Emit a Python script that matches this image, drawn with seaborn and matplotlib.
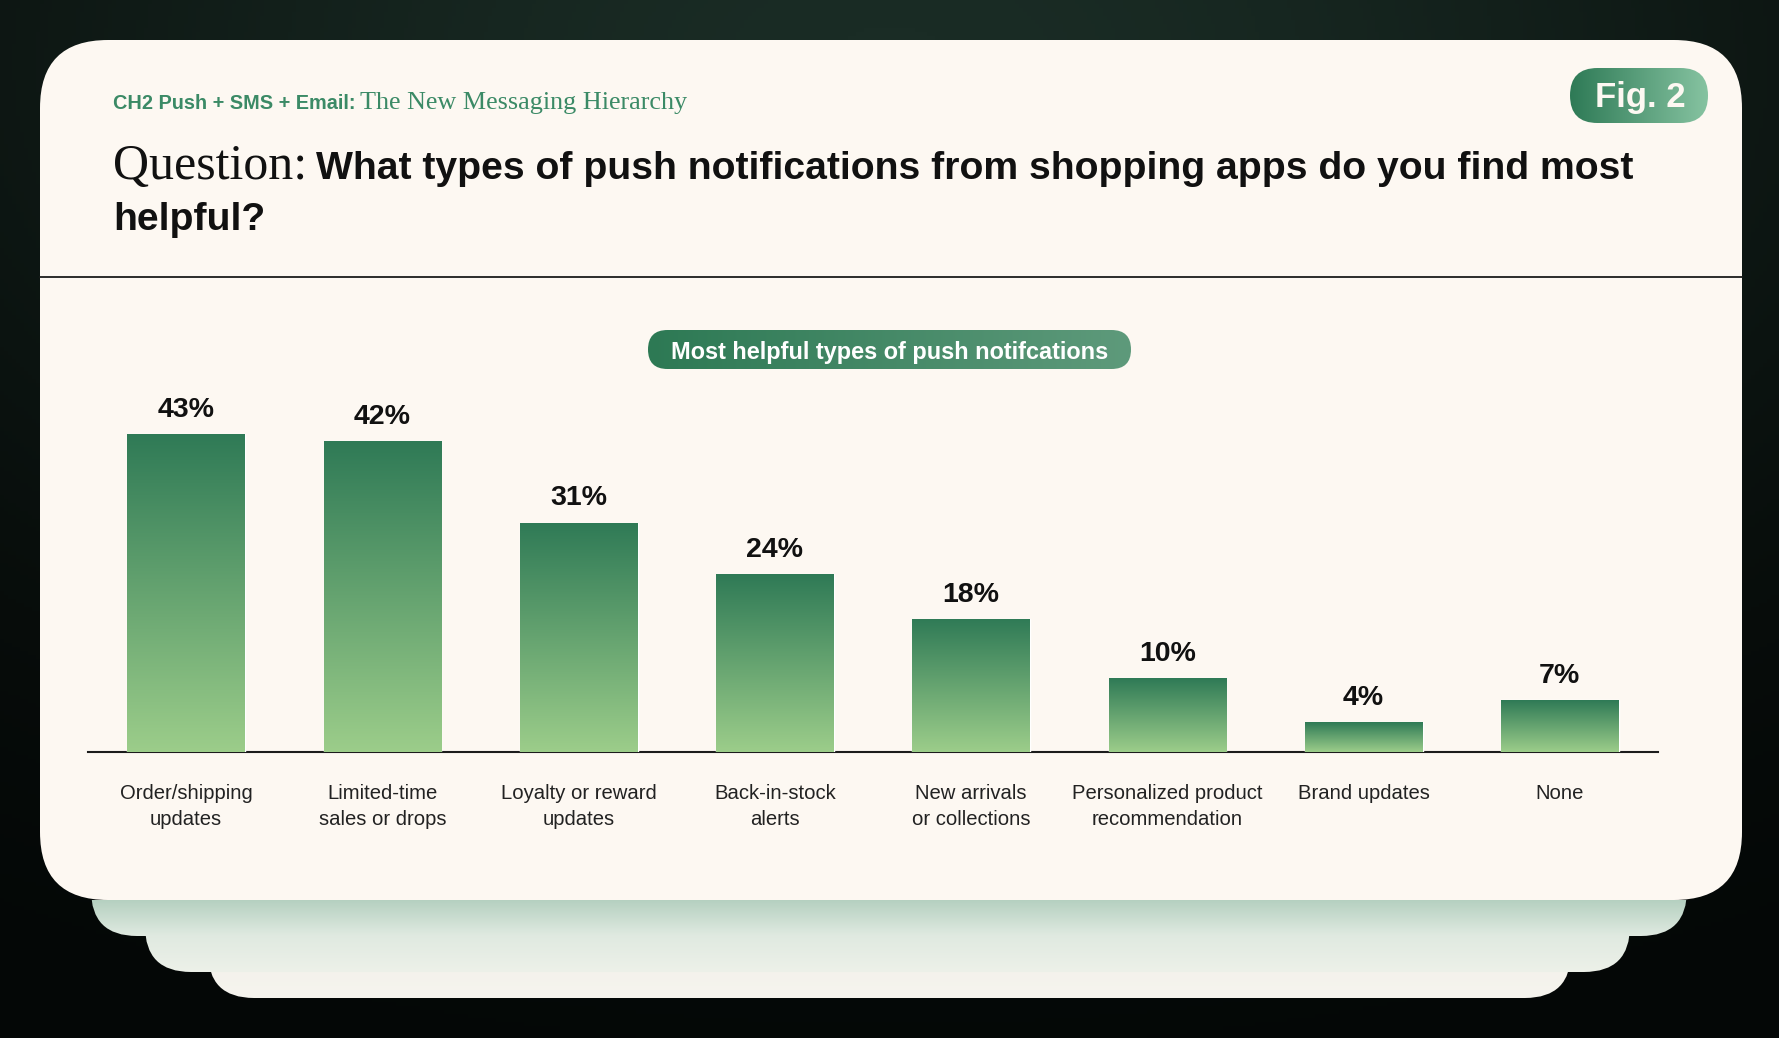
import numpy as np
import pandas as pd
import matplotlib
matplotlib.use("Agg")
import matplotlib.pyplot as plt
import seaborn as sns
from matplotlib.patches import FancyBboxPatch
from matplotlib.colors import LinearSegmentedColormap

# -------- data --------
categories = [
    "Order/shipping\nupdates",
    "Limited-time\nsales or drops",
    "Loyalty or reward\nupdates",
    "Back-in-stock\nalerts",
    "New arrivals\nor collections",
    "Personalized product\nrecommendation",
    "Brand updates",
    "None",
]
values = [43, 42, 31, 24, 18, 10, 4, 7]
value_labels = [f"{v}%" for v in values]

subtitle_sans = "CH2 Push + SMS + Email:"
subtitle_serif = "The New Messaging Hierarchy"
title_serif = "Question:"
title_line1 = "What types of push notifications from shopping apps do you find most"
title_line2 = "helpful?"
pill_text = "Most helpful types of push notifcations"
fig_tag = "Fig. 2"

W, H = 1779, 1038
SANS = ["Liberation Sans", "DejaVu Sans"]
SERIF = ["Liberation Serif", "DejaVu Serif"]
CARD = "#fdf8f2"
GREEN_TXT = "#3b8a66"
BAR_TOP = "#2f7a56"
BAR_BOT = "#9ccd8a"

sns.set_theme(style="white")
plt.rcParams["font.family"] = SANS


def gradient(ax, patch, c1, c2, extent, horizontal=False, zorder=1):
    cmap = LinearSegmentedColormap.from_list("g", [c1, c2])
    g = np.linspace(0, 1, 256)
    g = g.reshape(1, -1) if horizontal else g.reshape(-1, 1)
    im = ax.imshow(g, cmap=cmap, aspect="auto", extent=extent,
                   origin="upper", zorder=zorder, interpolation="bilinear")
    im.set_clip_path(patch)
    return im


def rounded(ax, x0, y0, x1, y1, r, zorder):
    p = FancyBboxPatch((x0, y0), x1 - x0, y1 - y0,
                       boxstyle=f"round,pad=0,rounding_size={r}",
                       facecolor="none", edgecolor="none", zorder=zorder)
    ax.add_patch(p)
    return p


fig = plt.figure(figsize=(W / 100, H / 100), dpi=100)
fig.patch.set_facecolor("#070d0b")

# -------- background + card --------
bg = fig.add_axes([0, 0, 1, 1])
bg.set_axis_off()

yy, xx = np.mgrid[0:H:4, 0:W:4]
glow = np.exp(-(((xx - W * 0.5) / (W * 0.55)) ** 2 + ((yy - 60) / (H * 0.55)) ** 2))
glow_cmap = LinearSegmentedColormap.from_list("bgc", ["#040706", "#1a2c25"])
bg.imshow(glow, cmap=glow_cmap, extent=[0, W, H, 0], aspect="auto", zorder=0)

layers = [
    (208, 1571, 998, "#eeeee6", "#f6f4ee"),
    (145, 1630, 972, "#d3e2d8", "#edf1e9"),
    (91, 1687, 936, "#b5d0c0", "#e0eae1"),
]
for i, (x0, x1, yb, ct, cb) in enumerate(layers):
    p = rounded(bg, x0, 600, x1, yb, 46, 2 + i)
    gradient(bg, p, ct, cb, [x0, x1, yb, 900], zorder=2 + i)

card = FancyBboxPatch((40, 40), 1702, 860, boxstyle="round,pad=0,rounding_size=68",
                      facecolor=CARD, edgecolor="none", zorder=6)
bg.add_patch(card)
bg.plot([40, 1742], [277, 277], color="#1c1c1c", lw=1.3, zorder=7)

bg.set_xlim(0, W)
bg.set_ylim(H, 0)

renderer = fig.canvas.get_renderer()


def runs(x, y, items):
    for text, kw in items:
        t = bg.text(x, y, text, va="baseline", ha="left", zorder=8, **kw)
        x += t.get_window_extent(renderer=renderer).width
    return x


# subtitle
x = runs(113, 109, [(subtitle_sans, dict(family=SANS, fontsize=14.3, weight="bold", color=GREEN_TXT))])
runs(x + 5, 109, [(subtitle_serif, dict(family=SERIF, fontsize=18.8, color=GREEN_TXT))])

# title
x = runs(113, 179, [(title_serif, dict(family=SERIF, fontsize=36, color="#111111"))])
runs(x + 9, 179, [(title_line1, dict(family=SANS, fontsize=28.2, weight="bold", color="#111111"))])
runs(113, 230, [(title_line2, dict(family=SANS, fontsize=28.2, weight="bold", color="#111111"))])

# Fig. 2 pill
fp = rounded(bg, 1570, 68, 1708, 123, 27.5, 8)
gradient(bg, fp, "#2e7a56", "#86c3a1", [1570, 1708, 123, 68], horizontal=True, zorder=8)
bg.text(1640, 97, fig_tag, ha="center", va="center", color="#fdf8f2",
        fontsize=25, weight="bold", zorder=9)

# chart pill
pp = rounded(bg, 648, 330, 1131, 369, 19.5, 8)
gradient(bg, pp, "#2d7954", "#5e9a7b", [648, 1131, 369, 330], horizontal=True, zorder=8)
bg.text(890, 352, pill_text, ha="center", va="center", color="white",
        fontsize=16.9, weight="bold", zorder=9)

bg.set_xlim(0, W)
bg.set_ylim(H, 0)

# -------- bar chart --------
df = pd.DataFrame({"category": categories, "value": values})
ax = fig.add_axes([88 / W, (H - 752) / H, 1570 / W, 370 / H])
ax.patch.set_alpha(0)
sns.barplot(data=df, x="category", y="value", width=0.6, color=BAR_TOP, ax=ax, zorder=3)

for bar, lab in zip(ax.patches, value_labels):
    bx, bw, bh = bar.get_x(), bar.get_width(), bar.get_height()
    gradient(ax, bar, BAR_TOP, BAR_BOT, [bx, bx + bw, 0, bh], zorder=3)
    bar.set_facecolor("none")
    ax.annotate(lab, (bx + bw / 2, bh), xytext=(0, 8), textcoords="offset points",
                ha="center", va="bottom", fontsize=20.5, weight="bold", color="#111111")

ax.set_xlim(-0.5, len(categories) - 0.5)
ax.set_ylim(0, 50)
ax.set_xlabel("")
ax.set_ylabel("")
ax.set_yticks([])
for s in ["top", "right", "left"]:
    ax.spines[s].set_visible(False)
ax.spines["bottom"].set_color("#1c1c1c")
ax.spines["bottom"].set_linewidth(1.5)
ax.tick_params(axis="x", length=0, pad=23, labelsize=14.6, labelcolor="#222222")
for t in ax.get_xticklabels():
    t.set_linespacing(1.45)

fig.savefig("out.png", dpi=100, facecolor=fig.get_facecolor())
